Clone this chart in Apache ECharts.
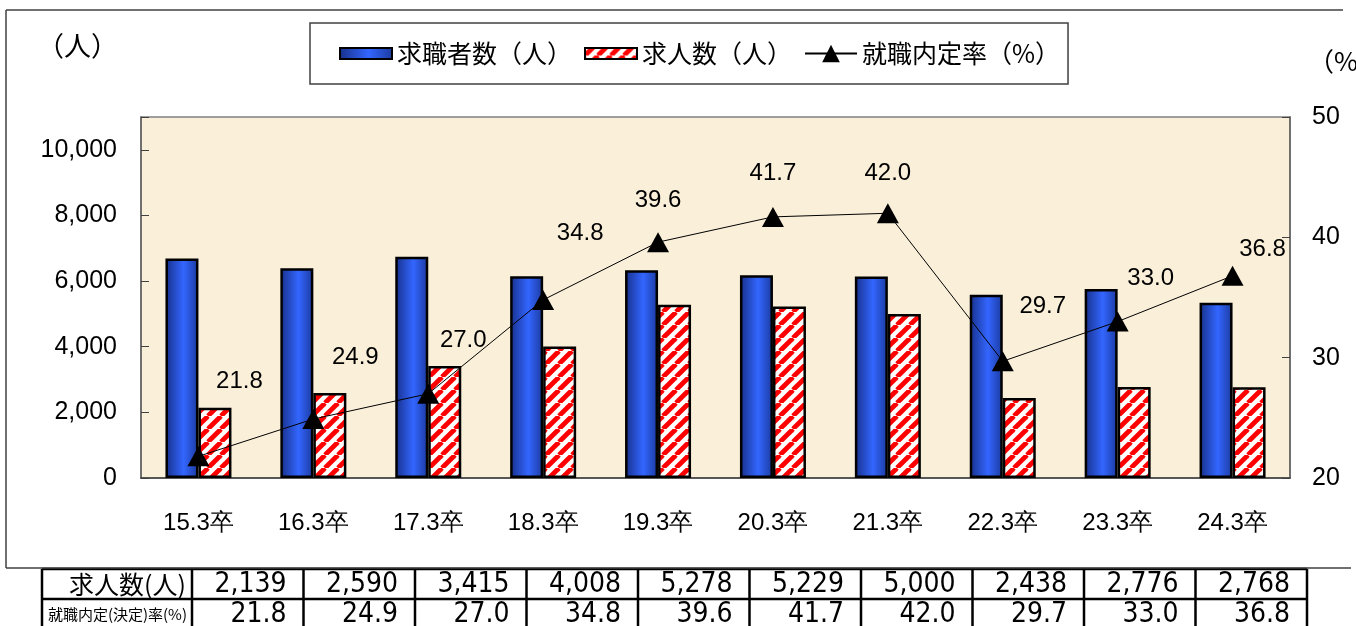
<!DOCTYPE html>
<html><head><meta charset="utf-8">
<script src="https://cdn.jsdelivr.net/npm/echarts@6/dist/echarts.min.js"></script>
<style>html,body{margin:0;padding:0;background:#fff}#c{width:1356px;height:626px}</style>
</head><body><div id="c"></div>
<script>
// ---- data ----
const categories = ['15.3卒','16.3卒','17.3卒','18.3卒','19.3卒','20.3卒','21.3卒','22.3卒','23.3卒','24.3卒'];
const jobSeekers = [6690, 6390, 6740, 6150, 6330, 6180, 6140, 5580, 5760, 5340];
const jobOffers  = [2139, 2590, 3415, 4008, 5278, 5229, 5000, 2438, 2776, 2768];
const offerRates = [21.8, 24.9, 27.0, 34.8, 39.6, 41.7, 42.0, 29.7, 33.0, 36.8];
const seriesNames = ['求職者数（人）', '求人数（人）', '就職内定率（%）'];
const tableRowHeads = ['求人数(人)', '就職内定(決定)率(%)'];

// ---- styles ----
const rateLabelOffsets = [[41,-75],[42,-62],[35,-53],[37,-67],[0,-42],[0,-44],[0,-40],[40,-55],[33,-43],[30,-26]];
const JP = '"Noto Sans CJK JP", sans-serif';
const NUM = '"Liberation Sans", Arial, sans-serif';
const NARROW = '"Liberation Sans Narrow", "DejaVu Sans Condensed", sans-serif';

function hatch(){
  const s = 13, c = document.createElement('canvas');
  c.width = s; c.height = s;
  const g = c.getContext('2d');
  g.fillStyle = '#ffffff'; g.fillRect(0,0,s,s);
  g.strokeStyle = '#ff0000'; g.lineWidth = 4.8;
  for (let k=-1;k<=1;k++){ g.beginPath(); g.moveTo(k*s, s); g.lineTo(k*s+s, 0); g.stroke(); }
  return c;
}
const blueFill = {type:'linear', x:0, y:0, x2:1, y2:0, colorStops:[
  {offset:0, color:'#17308a'}, {offset:0.55, color:'#3366ff'}, {offset:1, color:'#1b3a9e'}]};
const redFill = {image: hatch(), repeat:'repeat'};
const barIcon = 'path://M0,0H52V11H0Z';

// ---- table graphic ----
const tX0 = 42, tC0 = 192, tColW = 111.5, tTop = 569, tRowH = 30;
const tRight = tC0 + tColW * categories.length;
const graphics = [];
const lineStyle = {stroke:'#000', lineWidth:2.5};
for (let r=0;r<=2;r++) graphics.push({type:'line', shape:{x1:tX0, y1:tTop+r*tRowH, x2:tRight, y2:tTop+r*tRowH}, style:lineStyle});
graphics.push({type:'line', shape:{x1:tX0, y1:tTop, x2:tX0, y2:tTop+2*tRowH}, style:lineStyle});
for (let i=0;i<=categories.length;i++){
  const x = tC0 + i*tColW;
  graphics.push({type:'line', shape:{x1:x, y1:tTop, x2:x, y2:tTop+2*tRowH}, style:lineStyle});
}
graphics.push({type:'text', x:tC0-6, y:tTop+tRowH/2, style:{text:tableRowHeads[0], font:'25px '+JP, fill:'#000', align:'right', verticalAlign:'middle'}});
graphics.push({type:'text', x:tC0-5, y:tTop+tRowH*1.5, style:{text:tableRowHeads[1], font:'15px '+JP, fill:'#000', align:'right', verticalAlign:'middle'}});
categories.forEach((c,i)=>{
  const xr = tC0 + (i+1)*tColW - 17;
  graphics.push({type:'text', x:xr, y:tTop+tRowH/2+1, style:{text:jobOffers[i].toLocaleString('en-US'), font:'28px '+NARROW, fill:'#000', align:'right', verticalAlign:'middle'}});
  graphics.push({type:'text', x:xr, y:tTop+tRowH*1.5+1, style:{text:offerRates[i].toFixed(1), font:'28px '+NARROW, fill:'#000', align:'right', verticalAlign:'middle'}});
});
// outer frame
const frame = {stroke:'#404040', lineWidth:1.5};
graphics.push({type:'line', shape:{x1:6,y1:10,x2:1343,y2:10}, style:frame});
graphics.push({type:'line', shape:{x1:6,y1:10,x2:6,y2:568}, style:frame});
graphics.push({type:'line', shape:{x1:6,y1:568,x2:1351,y2:568}, style:frame});
// unit labels
graphics.push({type:'text', x:37, y:46, style:{text:'（人）', font:'27px '+JP, fill:'#000', verticalAlign:'middle'}});
graphics.push({type:'text', x:1308, y:61, style:{text:'（%）', font:'26px '+JP, fill:'#000', verticalAlign:'middle'}});

const chart = echarts.init(document.getElementById('c'), null, {renderer:'canvas'});
chart.setOption({
  animation:false,
  backgroundColor:'#fff',
  grid:{left:141, right:66, top:117, bottom:148, show:true, backgroundColor:'#faefd9', borderColor:'#808080', borderWidth:1.5},
  legend:{
    left:310, top:23, padding:[18,8,18,29], itemGap:12, itemWidth:52, itemHeight:22,
    borderColor:'#404040', borderWidth:1.5,
    textStyle:{fontSize:25, fontFamily:JP, color:'#000'},
    data:[{name:seriesNames[0], icon:barIcon},{name:seriesNames[1], icon:barIcon},{name:seriesNames[2]}]
  },
  xAxis:{
    type:'category', data:categories,
    axisLine:{lineStyle:{color:'#404040', width:1.5}},
    axisTick:{inside:true, length:8, lineStyle:{color:'#404040'}},
    axisLabel:{fontSize:24, fontFamily:NUM, color:'#000', margin:33}
  },
  yAxis:[{
    type:'value', min:0, max:11000, interval:2000,
    axisLine:{show:true, lineStyle:{color:'#606060', width:1.5}},
    axisTick:{show:true, inside:true, length:8, lineStyle:{color:'#404040'}},
    splitLine:{show:false},
    axisLabel:{fontSize:25, fontFamily:NUM, color:'#000', margin:24,
      formatter:v=> v>10000 ? '' : v.toLocaleString('en-US')}
  },{
    type:'value', min:20, max:50, interval:10, position:'right',
    axisLine:{show:true, lineStyle:{color:'#606060', width:1.5}},
    axisTick:{show:true, inside:true, length:8, lineStyle:{color:'#404040'}},
    splitLine:{show:false},
    axisLabel:{fontSize:25, fontFamily:NUM, color:'#000', margin:22}
  }],
  series:[{
    name:seriesNames[0], type:'bar', data:jobSeekers, barWidth:33, barGap:'0%',
    itemStyle:{color:blueFill, borderColor:'#000', borderWidth:2.5}
  },{
    name:seriesNames[1], type:'bar', data:jobOffers, barWidth:33,
    itemStyle:{color:redFill, borderColor:'#000', borderWidth:2.5}
  },{
    name:seriesNames[2], type:'line', yAxisIndex:1,
    data:offerRates.map((v,i)=>({value:v, label:{offset:rateLabelOffsets[i]}})),
    symbol:'triangle', symbolSize:[22,20],
    itemStyle:{color:'#000'}, lineStyle:{color:'#000', width:1},
    label:{show:true, position:'inside', fontSize:24, fontFamily:NUM, color:'#000',
      formatter:p=>p.value.toFixed(1)}
  }],
  graphic:graphics
});
</script></body></html>
